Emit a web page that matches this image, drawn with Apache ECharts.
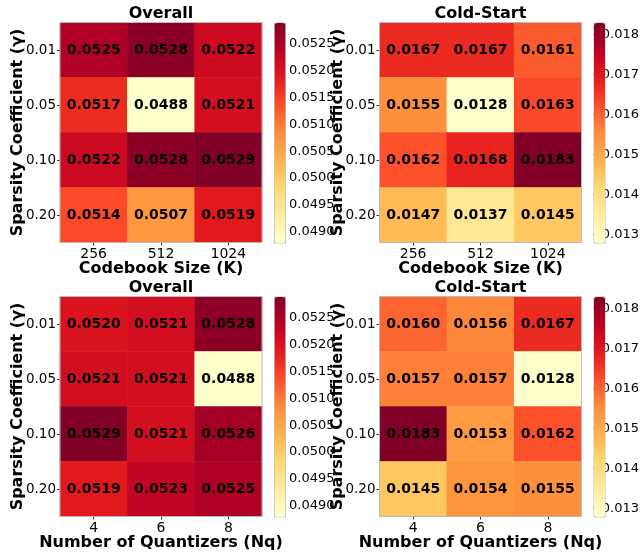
<!DOCTYPE html>
<html>
<head>
<meta charset="utf-8">
<script src="https://cdn.jsdelivr.net/npm/echarts@6/dist/echarts.min.js"></script>
<style>
html, body { margin: 0; padding: 0; background: #fff; }
#main { width: 642px; height: 552px; }
</style>
</head>
<body>
<div id="main"></div>
<script>
var gammaLabels = ['0.01', '0.05', '0.10', '0.20'];
var codebookSizes = ['256', '512', '1024'];
var quantizerCounts = ['4', '6', '8'];

// rows = gamma, columns = codebook size / quantizers
var overallCodebook = [
  [0.0525, 0.0528, 0.0522],
  [0.0517, 0.0488, 0.0521],
  [0.0522, 0.0528, 0.0529],
  [0.0514, 0.0507, 0.0519]
];
var coldCodebook = [
  [0.0167, 0.0167, 0.0161],
  [0.0155, 0.0128, 0.0163],
  [0.0162, 0.0168, 0.0183],
  [0.0147, 0.0137, 0.0145]
];
var overallQuant = [
  [0.0520, 0.0521, 0.0528],
  [0.0521, 0.0521, 0.0488],
  [0.0529, 0.0521, 0.0526],
  [0.0519, 0.0523, 0.0525]
];
var coldQuant = [
  [0.0160, 0.0156, 0.0167],
  [0.0157, 0.0157, 0.0128],
  [0.0183, 0.0153, 0.0162],
  [0.0145, 0.0154, 0.0155]
];

var overallTicks = [0.0490, 0.0495, 0.0500, 0.0505, 0.0510, 0.0515, 0.0520, 0.0525];
var coldTicks = [0.013, 0.014, 0.015, 0.016, 0.017, 0.018];

var ylOrRd = ['#ffffcc', '#ffeda0', '#fed976', '#feb24c', '#fd8d3c', '#fc4e2a', '#e31a1c', '#bd0026', '#800026'];

var FONT = 'DejaVu Sans';

var panels = [
  { title: 'Overall', data: overallCodebook, xs: codebookSizes, xName: 'Codebook Size (K)', ticks: overallTicks, digits: 4, left: 60, top: 22.5, cb: 274 },
  { title: 'Cold-Start', data: coldCodebook, xs: codebookSizes, xName: 'Codebook Size (K)', ticks: coldTicks, digits: 3, left: 379.5, top: 22.5, cb: 593.5 },
  { title: 'Overall', data: overallQuant, xs: quantizerCounts, xName: 'Number of Quantizers (Nq)', ticks: overallTicks, digits: 4, left: 60, top: 296.5, cb: 274 },
  { title: 'Cold-Start', data: coldQuant, xs: quantizerCounts, xName: 'Number of Quantizers (Nq)', ticks: coldTicks, digits: 3, left: 379.5, top: 296.5, cb: 593.5 }
];

var W = 202, H = 220;
var grid = [], xAxis = [], yAxis = [], series = [], visualMap = [], graphic = [];

panels.forEach(function (p, i) {
  var cells = [];
  var all = [];
  p.data.forEach(function (row, r) {
    row.forEach(function (v, c) {
      cells.push([c, r, v]);
      all.push(v);
    });
  });
  var lo = Math.min.apply(null, all);
  var hi = Math.max.apply(null, all);

  // heatmap grid
  grid.push({ left: p.left, top: p.top, width: W, height: H, show: true, z: 3,
    backgroundColor: 'transparent', borderColor: '#bbb', borderWidth: 1 });
  xAxis.push({
    gridIndex: 2 * i, type: 'category', data: p.xs,
    name: p.xName, nameLocation: 'middle', nameGap: 18, nameMoveOverlap: false,
    nameTextStyle: { fontFamily: FONT, fontWeight: 'bold', fontSize: 16, color: '#000' },
    axisLine: { show: false },
    axisTick: { show: true, alignWithLabel: true, length: 3, lineStyle: { color: '#333' } },
    axisLabel: { fontFamily: FONT, fontSize: 14, color: '#000', margin: 5 },
    splitLine: { show: false }
  });
  yAxis.push({
    gridIndex: 2 * i, type: 'category', data: gammaLabels, inverse: true,
    name: 'Sparsity Coefficient (γ)', nameLocation: 'middle', nameRotate: 90, nameGap: 34,
    nameMoveOverlap: false,
    nameTextStyle: { fontFamily: FONT, fontWeight: 'bold', fontSize: 16, color: '#000' },
    axisLine: { show: false },
    axisTick: { show: true, alignWithLabel: true, length: 3, lineStyle: { color: '#333' } },
    axisLabel: { fontFamily: FONT, fontSize: 13.5, color: '#000', margin: 4 },
    splitLine: { show: false }
  });

  // colorbar axis grid
  grid.push({ left: p.cb, top: p.top, width: 11, height: H, show: false });
  xAxis.push({ gridIndex: 2 * i + 1, type: 'value', show: false });
  yAxis.push({
    gridIndex: 2 * i + 1, type: 'value', min: lo, max: hi, position: 'right',
    axisLine: { show: false }, splitLine: { show: false },
    axisTick: { show: true, length: 3, customValues: p.ticks, lineStyle: { color: '#333' } },
    axisLabel: {
      customValues: p.ticks, fontFamily: FONT, fontSize: 13, color: '#000', margin: 4,
      formatter: (function (d) { return function (v) { return v.toFixed(d); }; })(p.digits)
    }
  });

  series.push({
    type: 'heatmap', xAxisIndex: 2 * i, yAxisIndex: 2 * i, data: cells,
    label: {
      show: true, fontFamily: FONT, fontWeight: 'bold', fontSize: 14, color: '#000',
      formatter: function (prm) { return prm.value[2].toFixed(4); }
    },
    emphasis: { disabled: true }
  });

  visualMap.push({
    type: 'continuous', seriesIndex: i, min: lo, max: hi,
    inRange: { color: ylOrRd }, orient: 'vertical',
    left: p.cb, top: p.top, itemWidth: 11, itemHeight: H, padding: 0,
    calculable: false, hoverLink: false, text: null, showLabel: false,
    borderColor: '#bbb', borderWidth: 1
  });

  graphic.push({
    type: 'text', x: p.left + W / 2, y: p.top - 9,
    style: { text: p.title, fontFamily: FONT, fontWeight: 'bold', fontSize: 16, fill: '#000',
      align: 'center', verticalAlign: 'middle' }
  });
});

var chart = echarts.init(document.getElementById('main'));
chart.setOption({
  backgroundColor: '#fff',
  animation: false,
  grid: grid,
  xAxis: xAxis,
  yAxis: yAxis,
  visualMap: visualMap,
  series: series,
  graphic: graphic
});
</script>
</body>
</html>
